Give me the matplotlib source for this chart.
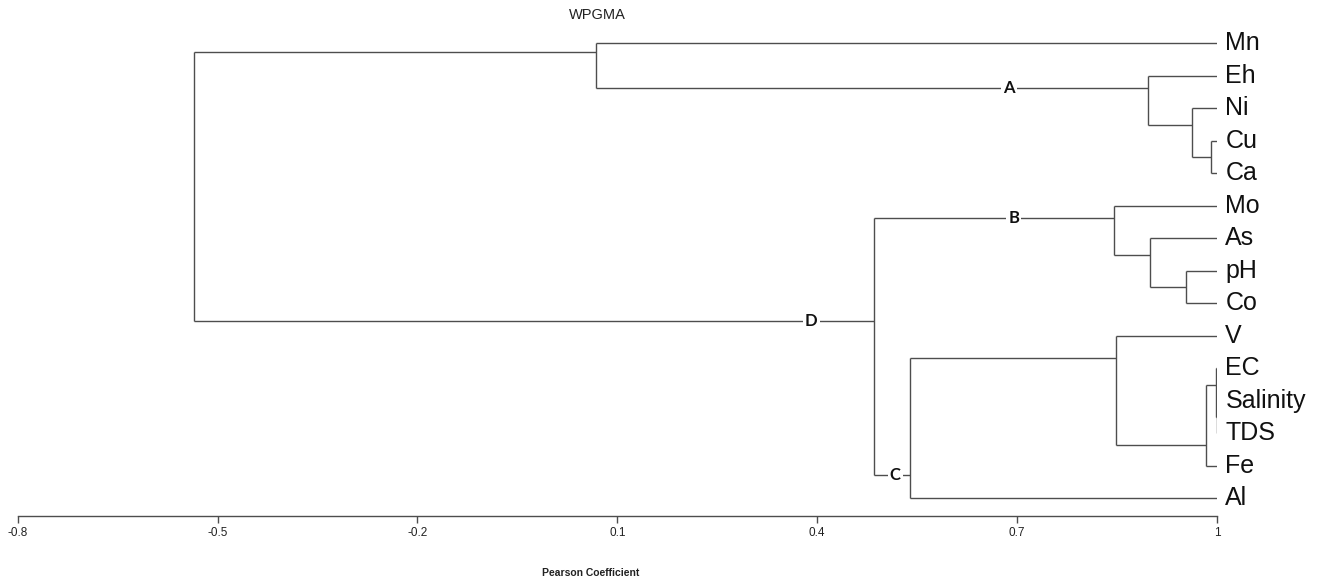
import numpy as np
import matplotlib.pyplot as plt

# Leaf variables, top to bottom
leaves = ['Mn', 'Eh', 'Ni', 'Cu', 'Ca', 'Mo', 'As', 'pH', 'Co',
          'V', 'EC', 'Salinity', 'TDS', 'Fe', 'Al']

# WPGMA merges (Pearson similarity); new clusters numbered from 15
merge_left = [3, 2, 1, 0, 7, 6, 5, 11, 10, 23, 9, 25, 21, 18]
merge_right = [4, 15, 16, 17, 8, 19, 20, 12, 22, 13, 24, 14, 26, 27]
merge_height = [0.991, 0.963, 0.896, 0.068, 0.954, 0.899, 0.846,
                0.9995, 0.999, 0.983, 0.848, 0.539, 0.485, -0.536]

# Cluster letters: node id and where the letter sits on its branch
group_names = ['A', 'B', 'C', 'D']
group_nodes = [17, 21, 26, 27]
group_label_x = [0.688, 0.695, 0.517, 0.391]

ticks = [-0.8, -0.5, -0.2, 0.1, 0.4, 0.7, 1]

line_col = '#4d4d4d'
narrow = ['Liberation Sans Narrow', 'Liberation Sans', 'DejaVu Sans']

fig = plt.figure(figsize=(13.18, 5.79), dpi=100)
ax = fig.add_axes([0.01343, 0.1088, 0.90995, 0.8912])

n_leaf = len(leaves)
ypos = {i: float(i) for i in range(n_leaf)}
xpos = {i: 1.0 for i in range(n_leaf)}
size = {i: 1 for i in range(n_leaf)}

for k, (a, b, h) in enumerate(zip(merge_left, merge_right, merge_height)):
    node = n_leaf + k
    ya, yb = ypos[a], ypos[b]
    # vertical joining the two children
    ax.plot([h, h], [ya, yb], color=line_col, lw=1.0, solid_capstyle='butt')
    # horizontals out to each child
    ax.plot([h, xpos[a]], [ya, ya], color=line_col, lw=1.0, solid_capstyle='butt')
    ax.plot([h, xpos[b]], [yb, yb], color=line_col, lw=1.0, solid_capstyle='butt')
    na, nb = size[a], size[b]
    ypos[node] = ya + (yb - ya) * na / (na + nb)
    xpos[node] = h
    size[node] = na + nb

# leaf names
for i, name in enumerate(leaves):
    ax.annotate(name, (1.0, ypos[i]), xytext=(6, 0), textcoords='offset points',
                ha='left', va='center', fontsize=18,
                family=['Liberation Sans', 'DejaVu Sans'], color='#111111',
                annotation_clip=False)

# cluster letters on their branches
for name, node, lx in zip(group_names, group_nodes, group_label_x):
    ax.text(lx, ypos[node], name, ha='center', va='center', fontsize=12,
            fontweight='bold', family=['Lato', 'DejaVu Sans'], color='#111111',
            bbox=dict(facecolor='white', edgecolor='none', pad=1.5))

ax.set_xlim(-0.8, 1.0)
ax.set_ylim(14.545, -1.332)
ax.set_xticks(ticks)
ax.set_xticklabels([f'{t:g}' for t in ticks], family=narrow, fontsize=8.5)
ax.set_yticks([])
for s in ['top', 'left', 'right']:
    ax.spines[s].set_visible(False)
ax.spines['bottom'].set_color(line_col)
ax.spines['bottom'].set_linewidth(1.0)
ax.tick_params(axis='x', direction='out', length=5, width=1.0, color=line_col,
               pad=3, labelcolor='#222222')

fig.text(597 / 1318, 1 - 15 / 579, 'WPGMA', ha='center', va='center',
         fontsize=10.5, family=['Liberation Sans', 'DejaVu Sans'], color='#222222')
fig.text(591 / 1318, 1 - 573 / 579, 'Pearson Coefficient', ha='center', va='center',
         fontsize=7.5, fontweight='bold', family=narrow, color='#222222')

fig.savefig('out.png', dpi=100, facecolor='white')
